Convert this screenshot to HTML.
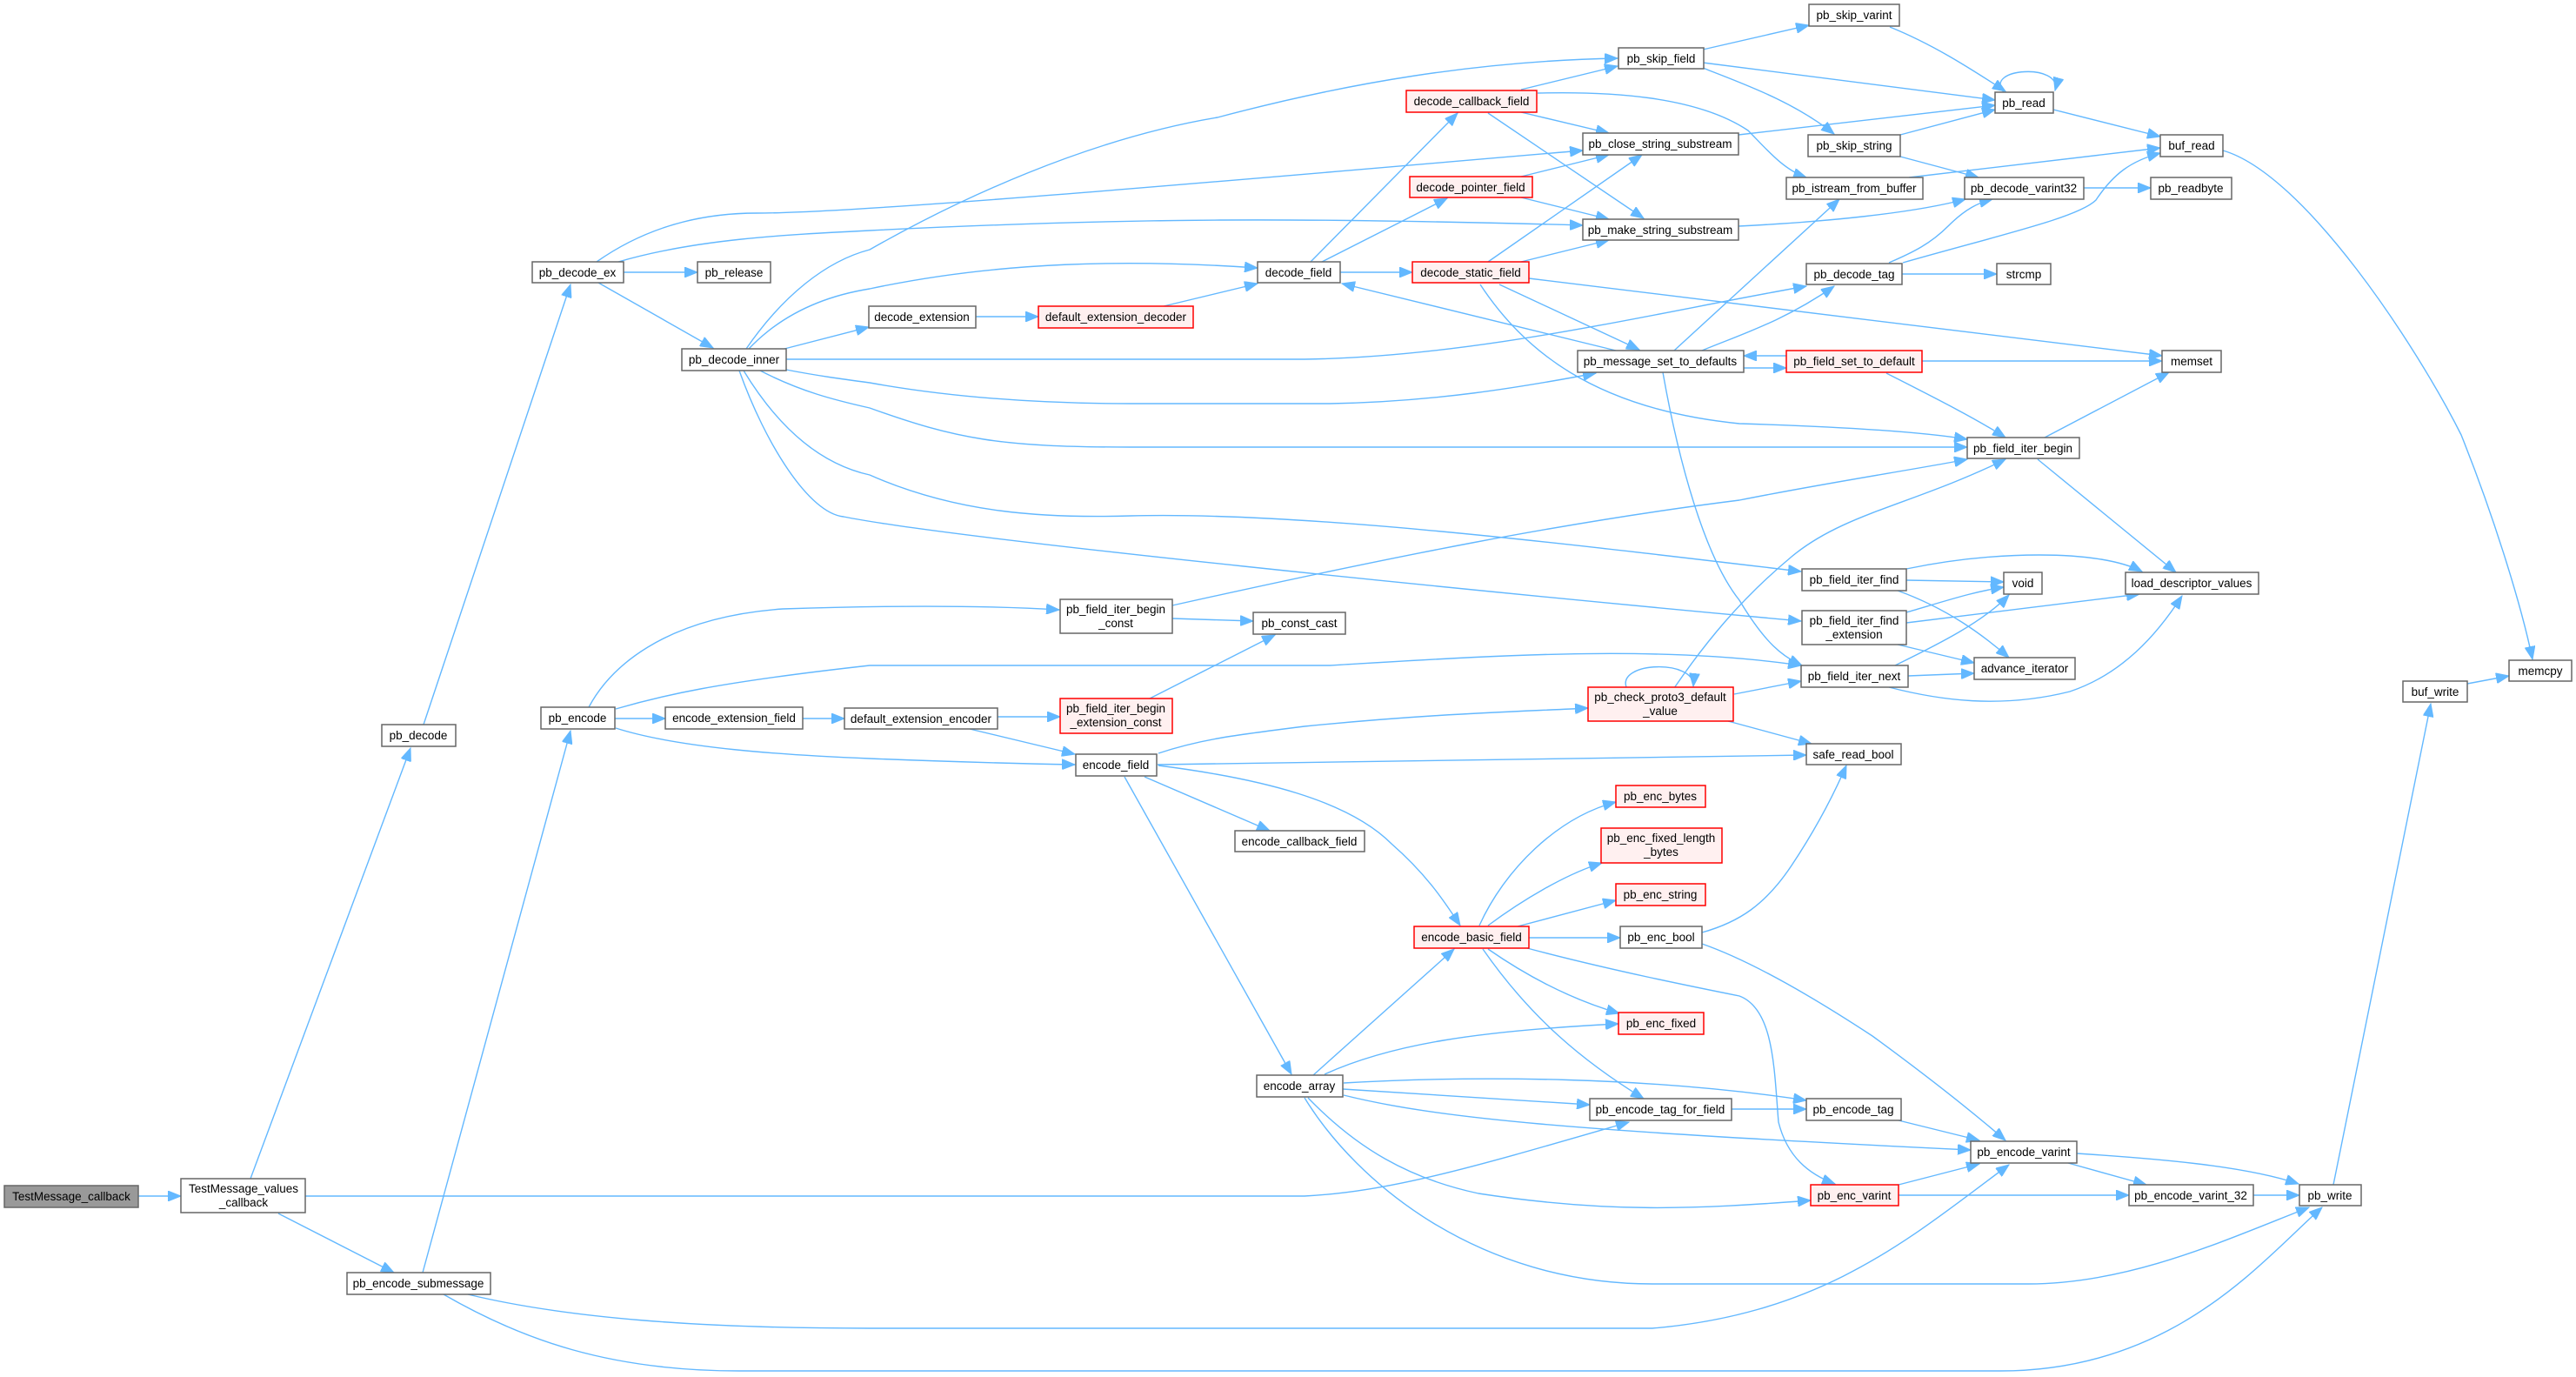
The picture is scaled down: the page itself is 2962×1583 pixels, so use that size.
<!DOCTYPE html>
<html><head><meta charset="utf-8"><style>
html,body{margin:0;padding:0;background:#fff;}
svg{display:block;}
text{font-family:"Liberation Sans",Arial,sans-serif;font-size:13.5px;fill:#000;text-anchor:middle;}
.n{fill:#fff;stroke:#666;stroke-width:1.5;}
.r{fill:#fff0f0;stroke:#f00;stroke-width:1.5;}
.g{fill:#999;stroke:#666;stroke-width:1.5;}
.e path{fill:none;stroke:#63b8ff;stroke-width:1.4;marker-end:url(#a);}
</style></head><body>
<svg width="2962" height="1583" viewBox="0 0 2962 1583" xmlns="http://www.w3.org/2000/svg">
<defs><marker id="a" markerUnits="userSpaceOnUse" markerWidth="16" markerHeight="12" refX="15" refY="6" orient="auto"><path d="M0,0 L15,6 L0,12 z" fill="#63b8ff" stroke="#63b8ff"/></marker></defs>
<g class="e">
<path d="M159,1375 L208,1375"/>
<path d="M288,1355 L472,860"/>
<path d="M320,1395 L453,1463"/>
<path d="M351,1375 L1500,1375 C1600,1370 1700,1340 1873,1290"/>
<path d="M487,833 L656,327"/>
<path d="M486,1463 L656,840"/>
<path d="M538,1488 C650,1515 800,1527 1000,1527 L1900,1527 C2100,1510 2200,1420 2310,1339"/>
<path d="M510,1488 C600,1540 700,1576 850,1576 L2300,1576 C2500,1576 2600,1450 2670,1388"/>
<path d="M717,313 L802,313"/>
<path d="M688,325 L820,400"/>
<path d="M686,301 C730,270 790,245 870,245 C1000,245 1500,200 1820,173"/>
<path d="M711,301 C800,275 900,270 1000,265 C1300,250 1500,250 1820,259"/>
<path d="M858,401 C900,340 950,300 1000,287 C1100,230 1250,160 1400,135 C1550,95 1700,70 1860,67"/>
<path d="M861,401 C900,360 950,340 1000,332 C1150,300 1300,298 1446,308"/>
<path d="M902,401 L999,376"/>
<path d="M1122,364 L1194,364"/>
<path d="M1338,352 L1446,326"/>
<path d="M904,413 L1500,413 C1700,410 1900,360 2077,329"/>
<path d="M904,425 C940,432 970,436 1000,440 C1100,458 1200,464 1300,464 L1529,464 C1650,462 1750,445 1835,429"/>
<path d="M874,426 C920,450 960,460 1000,469 C1100,505 1150,514 1300,514 L2262,514"/>
<path d="M855,426 C900,500 950,535 1000,546 C1100,590 1200,596 1300,593 C1500,588 1800,625 2071,657"/>
<path d="M850,426 C880,510 930,590 970,594 C1100,620 1700,680 2071,714"/>
<path d="M677,813 C700,770 760,710 900,700 C1050,695 1150,697 1218,701"/>
<path d="M708,815 C760,800 820,785 1000,765 L1529,765 C1700,755 1900,740 2071,765"/>
<path d="M707,826 L765,826"/>
<path d="M708,837 C780,860 900,868 1000,872 C1100,876 1180,878 1236,879"/>
<path d="M923,826 L971,826"/>
<path d="M1147,824 L1219,824"/>
<path d="M1115,838 L1236,867"/>
<path d="M1322,803 L1466,730"/>
<path d="M1348,711 L1441,714"/>
<path d="M1348,696 C1600,640 1800,600 2000,575 C2100,555 2200,540 2262,528"/>
<path d="M1332,866 C1380,850 1420,845 1500,835 C1650,820 1750,818 1826,814"/>
<path d="M1331,879 L2077,868"/>
<path d="M1316,893 L1460,955"/>
<path d="M1332,880 C1450,895 1550,920 1600,970 C1640,1005 1660,1035 1679,1064"/>
<path d="M1293,893 L1485,1235"/>
<path d="M1510,1236 L1672,1091"/>
<path d="M1523,1235 C1600,1200 1700,1185 1861,1177"/>
<path d="M1545,1245 C1700,1236 1900,1238 2077,1265"/>
<path d="M1544,1252 L1828,1270"/>
<path d="M1545,1259 C1650,1285 1800,1300 2266,1322"/>
<path d="M1504,1262 C1560,1320 1620,1355 1700,1372 C1850,1395 1950,1390 2082,1380"/>
<path d="M1500,1262 C1560,1360 1700,1476 1900,1476 L2332,1476 C2450,1476 2560,1425 2655,1388"/>
<path d="M1701,1064 C1730,1000 1790,940 1858,922"/>
<path d="M1711,1064 C1750,1035 1800,1005 1842,992"/>
<path d="M1745,1065 L1858,1035"/>
<path d="M1758,1078 L1863,1078"/>
<path d="M1711,1091 C1760,1125 1810,1150 1862,1165"/>
<path d="M1705,1091 C1760,1170 1820,1220 1890,1263"/>
<path d="M1756,1090 C1850,1115 1950,1135 2000,1145 C2040,1160 2040,1230 2045,1290 C2055,1330 2080,1350 2110,1361"/>
<path d="M1957,1072 C2000,1060 2030,1040 2060,995 C2090,950 2110,910 2123,880"/>
<path d="M1957,1085 C2000,1100 2060,1130 2153,1191 C2220,1240 2270,1280 2306,1311"/>
<path d="M1991,1275 L2077,1275"/>
<path d="M2183,1288 L2276,1311"/>
<path d="M2183,1362 L2276,1338"/>
<path d="M2183,1374 L2448,1374"/>
<path d="M2378,1337 L2468,1362"/>
<path d="M2388,1326 C2480,1332 2580,1340 2643,1361"/>
<path d="M2591,1374 L2644,1374"/>
<path d="M2683,1362 L2795,809"/>
<path d="M2837,786 L2885,777"/>
<path d="M2556,173 C2650,200 2780,400 2830,500 C2870,600 2900,700 2912,758"/>
<path d="M2361,126 L2484,157"/>
<path d="M2304,106 C2280,78 2372,72 2363,104"/>
<path d="M2173,31 C2220,50 2260,75 2306,105"/>
<path d="M1958,57 L2080,29"/>
<path d="M1958,72 L2294,115"/>
<path d="M1958,78 C2000,95 2060,115 2109,154"/>
<path d="M1749,103 L1860,76"/>
<path d="M1749,129 L1850,153"/>
<path d="M1711,130 L1890,251"/>
<path d="M1768,107 C1850,105 1950,110 2010,150 C2030,170 2050,195 2077,204"/>
<path d="M1999,155 L2294,121"/>
<path d="M2185,155 L2294,126"/>
<path d="M2185,180 L2275,204"/>
<path d="M2195,204 L2484,170"/>
<path d="M1999,260 C2100,255 2200,245 2260,229"/>
<path d="M2396,216 L2473,216"/>
<path d="M2188,302 C2300,270 2390,250 2410,230 C2430,200 2450,185 2484,176"/>
<path d="M2172,302 C2200,290 2220,280 2240,260 C2260,240 2275,233 2291,229"/>
<path d="M2187,315 L2296,315"/>
<path d="M1749,203 L1850,178"/>
<path d="M1749,227 L1850,252"/>
<path d="M1507,301 L1676,130"/>
<path d="M1520,301 L1664,228"/>
<path d="M1541,313 L1624,313"/>
<path d="M1711,301 L1888,178"/>
<path d="M1749,301 L1850,276"/>
<path d="M1758,320 L2486,409"/>
<path d="M1724,327 L1885,402"/>
<path d="M1702,327 C1750,400 1830,470 2000,487 C2100,490 2200,495 2262,505"/>
<path d="M1858,403 L1543,326"/>
<path d="M1925,403 L2115,229"/>
<path d="M1957,403 C2000,385 2050,370 2109,329"/>
<path d="M2005,423 L2054,423"/>
<path d="M2054,409 L2005,409"/>
<path d="M1912,428 C1930,530 1960,640 2000,690 C2030,740 2050,755 2072,765"/>
<path d="M2210,415 L2486,415"/>
<path d="M2169,429 C2220,455 2270,480 2306,503"/>
<path d="M2351,503 L2494,428"/>
<path d="M2343,528 L2502,658"/>
<path d="M2192,654 C2250,642 2300,638 2345,638 C2400,638 2440,645 2463,657"/>
<path d="M2192,667 L2304,669"/>
<path d="M2182,679 C2240,700 2280,730 2310,756"/>
<path d="M2192,704 C2240,690 2270,680 2304,675"/>
<path d="M2192,716 L2460,683"/>
<path d="M2182,741 L2270,762"/>
<path d="M2179,765 C2230,740 2280,715 2310,684"/>
<path d="M2194,777 L2270,774"/>
<path d="M2172,790 C2230,805 2300,815 2380,795 C2440,775 2480,730 2509,685"/>
<path d="M1994,798 L2071,783"/>
<path d="M1987,829 L2083,855"/>
<path d="M1925,791 C1960,740 2000,690 2060,640 C2120,590 2200,580 2306,528"/>
<path d="M1870,790 C1860,760 1950,758 1947,789"/>
</g>
<g>
<rect class="g" x="5" y="1363" width="154" height="25"/><text x="82" y="1380">TestMessage_callback</text>
<rect class="n" x="208" y="1355" width="143" height="39"/><text x="280" y="1371">TestMessage_values</text><text x="280" y="1387">_callback</text>
<rect class="n" x="439" y="833" width="85" height="25"/><text x="481" y="850">pb_decode</text>
<rect class="n" x="399" y="1463" width="165" height="25"/><text x="481" y="1480">pb_encode_submessage</text>
<rect class="n" x="612" y="301" width="105" height="24"/><text x="664" y="318">pb_decode_ex</text>
<rect class="n" x="802" y="301" width="84" height="24"/><text x="844" y="318">pb_release</text>
<rect class="n" x="784" y="401" width="120" height="25"/><text x="844" y="418">pb_decode_inner</text>
<rect class="n" x="622" y="813" width="85" height="25"/><text x="664" y="830">pb_encode</text>
<rect class="n" x="765" y="813" width="158" height="25"/><text x="844" y="830">encode_extension_field</text>
<rect class="n" x="971" y="814" width="176" height="24"/><text x="1059" y="831">default_extension_encoder</text>
<rect class="n" x="999" y="352" width="123" height="25"/><text x="1060" y="369">decode_extension</text>
<rect class="r" x="1194" y="352" width="178" height="25"/><text x="1283" y="369">default_extension_decoder</text>
<rect class="n" x="1219" y="689" width="129" height="39"/><text x="1283" y="705">pb_field_iter_begin</text><text x="1283" y="721">_const</text>
<rect class="r" x="1219" y="803" width="129" height="40"/><text x="1283" y="819">pb_field_iter_begin</text><text x="1283" y="835">_extension_const</text>
<rect class="n" x="1237" y="867" width="93" height="25"/><text x="1283" y="884">encode_field</text>
<rect class="n" x="1446" y="301" width="95" height="24"/><text x="1493" y="318">decode_field</text>
<rect class="n" x="1441" y="704" width="106" height="25"/><text x="1494" y="721">pb_const_cast</text>
<rect class="n" x="1420" y="955" width="149" height="24"/><text x="1494" y="972">encode_callback_field</text>
<rect class="n" x="1445" y="1236" width="99" height="25"/><text x="1494" y="1253">encode_array</text>
<rect class="r" x="1617" y="104" width="150" height="25"/><text x="1692" y="121">decode_callback_field</text>
<rect class="r" x="1621" y="203" width="141" height="24"/><text x="1691" y="220">decode_pointer_field</text>
<rect class="r" x="1624" y="301" width="134" height="24"/><text x="1691" y="318">decode_static_field</text>
<rect class="r" x="1626" y="1065" width="132" height="25"/><text x="1692" y="1082">encode_basic_field</text>
<rect class="n" x="1861" y="55" width="98" height="24"/><text x="1910" y="72">pb_skip_field</text>
<rect class="n" x="1820" y="153" width="179" height="25"/><text x="1909" y="170">pb_close_string_substream</text>
<rect class="n" x="1820" y="252" width="179" height="24"/><text x="1909" y="269">pb_make_string_substream</text>
<rect class="n" x="1814" y="403" width="191" height="25"/><text x="1909" y="420">pb_message_set_to_defaults</text>
<rect class="r" x="1826" y="790" width="167" height="39"/><text x="1909" y="806">pb_check_proto3_default</text><text x="1909" y="822">_value</text>
<rect class="r" x="1858" y="903" width="103" height="25"/><text x="1909" y="920">pb_enc_bytes</text>
<rect class="r" x="1841" y="952" width="139" height="40"/><text x="1910" y="968">pb_enc_fixed_length</text><text x="1910" y="984">_bytes</text>
<rect class="r" x="1858" y="1016" width="103" height="25"/><text x="1909" y="1033">pb_enc_string</text>
<rect class="n" x="1863" y="1065" width="94" height="25"/><text x="1910" y="1082">pb_enc_bool</text>
<rect class="r" x="1861" y="1164" width="98" height="25"/><text x="1910" y="1181">pb_enc_fixed</text>
<rect class="n" x="1828" y="1263" width="163" height="25"/><text x="1909" y="1280">pb_encode_tag_for_field</text>
<rect class="n" x="2080" y="5" width="104" height="25"/><text x="2132" y="22">pb_skip_varint</text>
<rect class="n" x="2079" y="155" width="106" height="25"/><text x="2132" y="172">pb_skip_string</text>
<rect class="n" x="2054" y="204" width="157" height="25"/><text x="2132" y="221">pb_istream_from_buffer</text>
<rect class="n" x="2077" y="303" width="110" height="24"/><text x="2132" y="320">pb_decode_tag</text>
<rect class="r" x="2054" y="403" width="156" height="25"/><text x="2132" y="420">pb_field_set_to_default</text>
<rect class="n" x="2072" y="654" width="120" height="25"/><text x="2132" y="671">pb_field_iter_find</text>
<rect class="n" x="2072" y="702" width="120" height="39"/><text x="2132" y="718">pb_field_iter_find</text><text x="2132" y="734">_extension</text>
<rect class="n" x="2071" y="765" width="123" height="25"/><text x="2132" y="782">pb_field_iter_next</text>
<rect class="n" x="2077" y="855" width="109" height="24"/><text x="2131" y="872">safe_read_bool</text>
<rect class="n" x="2077" y="1263" width="109" height="25"/><text x="2131" y="1280">pb_encode_tag</text>
<rect class="r" x="2082" y="1362" width="101" height="24"/><text x="2132" y="1379">pb_enc_varint</text>
<rect class="n" x="2294" y="106" width="67" height="24"/><text x="2327" y="123">pb_read</text>
<rect class="n" x="2259" y="204" width="137" height="25"/><text x="2327" y="221">pb_decode_varint32</text>
<rect class="n" x="2296" y="303" width="62" height="24"/><text x="2327" y="320">strcmp</text>
<rect class="n" x="2262" y="503" width="129" height="24"/><text x="2326" y="520">pb_field_iter_begin</text>
<rect class="n" x="2304" y="658" width="44" height="25"/><text x="2326" y="675">void</text>
<rect class="n" x="2270" y="756" width="116" height="25"/><text x="2328" y="773">advance_iterator</text>
<rect class="n" x="2266" y="1312" width="122" height="25"/><text x="2327" y="1329">pb_encode_varint</text>
<rect class="n" x="2484" y="155" width="72" height="25"/><text x="2520" y="172">buf_read</text>
<rect class="n" x="2473" y="204" width="93" height="25"/><text x="2519" y="221">pb_readbyte</text>
<rect class="n" x="2486" y="403" width="68" height="25"/><text x="2520" y="420">memset</text>
<rect class="n" x="2444" y="658" width="153" height="25"/><text x="2520" y="675">load_descriptor_values</text>
<rect class="n" x="2448" y="1362" width="143" height="24"/><text x="2519" y="1379">pb_encode_varint_32</text>
<rect class="n" x="2644" y="1362" width="71" height="24"/><text x="2679" y="1379">pb_write</text>
<rect class="n" x="2763" y="783" width="74" height="24"/><text x="2800" y="800">buf_write</text>
<rect class="n" x="2885" y="759" width="72" height="24"/><text x="2921" y="776">memcpy</text>
</g>
</svg>
</body></html>
